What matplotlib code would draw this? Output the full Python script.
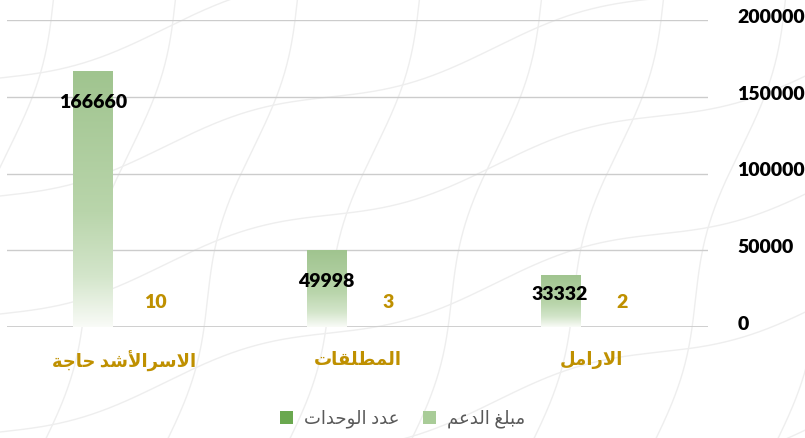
import numpy as np
import matplotlib
matplotlib.use("Agg")
import matplotlib.pyplot as plt
from matplotlib.patches import Patch
from matplotlib.colors import LinearSegmentedColormap
import matplotlib.transforms as mtransforms

# ---- data ----
categories = ["الاسرالأشد حاجة", "المطلقات", "الارامل"]
support_amount = [166660, 49998, 33332]   # مبلغ الدعم
unit_count = [10, 3, 2]                   # عدد الوحدات
series_names = ["مبلغ الدعم", "عدد الوحدات"]
yticks = [0, 50000, 100000, 150000, 200000]

# ---- minimal arabic shaping (matplotlib has no bidi / joining) ----
FORMS = {  # isolated, final, initial, medial
    "ا": ("\uFE8D", "\uFE8E"), "أ": ("\uFE83", "\uFE84"),
    "ب": ("\uFE8F", "\uFE90", "\uFE91", "\uFE92"), "ة": ("\uFE93", "\uFE94"),
    "ت": ("\uFE95", "\uFE96", "\uFE97", "\uFE98"), "ج": ("\uFE9D", "\uFE9E", "\uFE9F", "\uFEA0"),
    "ح": ("\uFEA1", "\uFEA2", "\uFEA3", "\uFEA4"), "د": ("\uFEA9", "\uFEAA"),
    "ر": ("\uFEAD", "\uFEAE"), "س": ("\uFEB1", "\uFEB2", "\uFEB3", "\uFEB4"),
    "ش": ("\uFEB5", "\uFEB6", "\uFEB7", "\uFEB8"), "ط": ("\uFEC1", "\uFEC2", "\uFEC3", "\uFEC4"),
    "ع": ("\uFEC9", "\uFECA", "\uFECB", "\uFECC"), "غ": ("\uFECD", "\uFECE", "\uFECF", "\uFED0"),
    "ق": ("\uFED5", "\uFED6", "\uFED7", "\uFED8"), "ل": ("\uFEDD", "\uFEDE", "\uFEDF", "\uFEE0"),
    "م": ("\uFEE1", "\uFEE2", "\uFEE3", "\uFEE4"), "و": ("\uFEED", "\uFEEE"),
    "لا": ("\uFEFB", "\uFEFC"), "لأ": ("\uFEF7", "\uFEF8"),
}


def shape(txt):
    toks = []
    i = 0
    while i < len(txt):
        if txt[i] == "ل" and i + 1 < len(txt) and txt[i + 1] in "اأ":
            toks.append(txt[i:i + 2])
            i += 2
        else:
            toks.append(txt[i])
            i += 1
    out = []
    for k, t in enumerate(toks):
        if t not in FORMS:
            out.append(t)
            continue
        f = FORMS[t]
        prev = k > 0 and toks[k - 1] in FORMS and len(FORMS[toks[k - 1]]) == 4
        nxt = len(f) == 4 and k + 1 < len(toks) and toks[k + 1] in FORMS
        if prev and nxt:
            out.append(f[3])
        elif prev:
            out.append(f[1])
        elif nxt:
            out.append(f[2])
        else:
            out.append(f[0])
    return "".join(out)[::-1]


plt.rcParams["font.family"] = ["Lato", "DejaVu Sans"]

W, H = 805, 438
fig = plt.figure(figsize=(W / 100, H / 100), dpi=100)
fig.patch.set_facecolor("white")

# faint wavy background pattern
bg = fig.add_axes([0, 0, 1, 1], zorder=-5)
bg.set_xlim(0, W)
bg.set_ylim(H, 0)
bg.axis("off")
yy = np.linspace(-20, H + 20, 300)
for c in range(-200, W + 100, 122):
    bg.plot(c + 0.3 * (H - yy) + 9 * np.sin(2 * np.pi * yy / 300), yy, color="#eeeeee", lw=1)
xx = np.linspace(-20, W + 20, 400)
for c in range(-40, H + 300, 118):
    bg.plot(xx, c - 0.3 * xx + 10 * np.sin(2 * np.pi * xx / 330), color="#eeeeee", lw=1)

ax = fig.add_axes([7 / W, 111 / H, 701 / W, 307 / H])
ax.patch.set_alpha(0)

x = np.arange(len(categories))
bw = 0.167
off = 0.133
bars = ax.bar(x - off, support_amount, bw, color="none", edgecolor="none", zorder=3)
ax.bar(x + off, unit_count, bw, color="#70ad47", zorder=3)

# gradient fill per bar
cmap = LinearSegmentedColormap.from_list(
    "g", [(0, "#a0c48f"), (0.55, "#b9d5ab"), (0.8, "#d3e5ca"), (1, "#f9fbf7")])
grad = np.linspace(0, 1, 256).reshape(-1, 1)
for b in bars:
    x0, y0 = b.get_x(), b.get_y()
    ax.imshow(grad, cmap=cmap, aspect="auto", origin="upper",
              extent=[x0, x0 + b.get_width(), y0, y0 + b.get_height()], zorder=3)
ax.set_xlim(-0.5, len(categories) - 0.5)
ax.set_ylim(0, 200000)

# grid
for v in yticks:
    ax.axhline(v, color="#cccccc", lw=1.3 if v == 0 else 1.0, zorder=1)

for s in ax.spines.values():
    s.set_visible(False)

ax.yaxis.tick_right()
ax.set_yticks(yticks)
ax.set_yticklabels([str(v) for v in yticks], fontsize=14, fontweight="heavy", color="black")
ax.tick_params(axis="y", length=0, pad=21)
for lab in ax.get_yticklabels():
    lab.set_horizontalalignment("left")
    lab.set_transform(lab.get_transform() + mtransforms.ScaledTranslation(0, 3 / 72, fig.dpi_scale_trans))

ax.set_xticks(x)
ax.set_xticklabels([shape(c) for c in categories], fontsize=13, fontweight="bold", color="#bf9000")
ax.tick_params(axis="x", length=0, pad=17)

# value labels
px = 200000 / 307.0
for xi, v in zip(x, support_amount):
    ypos = max(v - 31 * px, 32 * px)
    ax.text(xi - off, ypos, str(v), ha="center", va="center", fontsize=14,
            fontweight="heavy", color="black", zorder=5)
for xi, v in zip(x, unit_count):
    ax.annotate(str(v), (xi + off, v), xytext=(0, 24 * 0.72), textcoords="offset points",
                ha="center", va="center", fontsize=14, fontweight="heavy", color="#bf9000", zorder=5)

handles = [Patch(facecolor="#6aa84f", edgecolor="none"), Patch(facecolor="#a9cc98", edgecolor="none")]
fig.legend(handles, [shape(series_names[1]), shape(series_names[0])], loc="center",
           bbox_to_anchor=(0.5, 1 - 419 / H), ncol=2, frameon=False,
           prop={"size": 13}, labelcolor="#595959", handlelength=0.75, handleheight=0.75,
           handletextpad=0.6, columnspacing=1.3)

fig.savefig("out.png", dpi=100, facecolor="white")
